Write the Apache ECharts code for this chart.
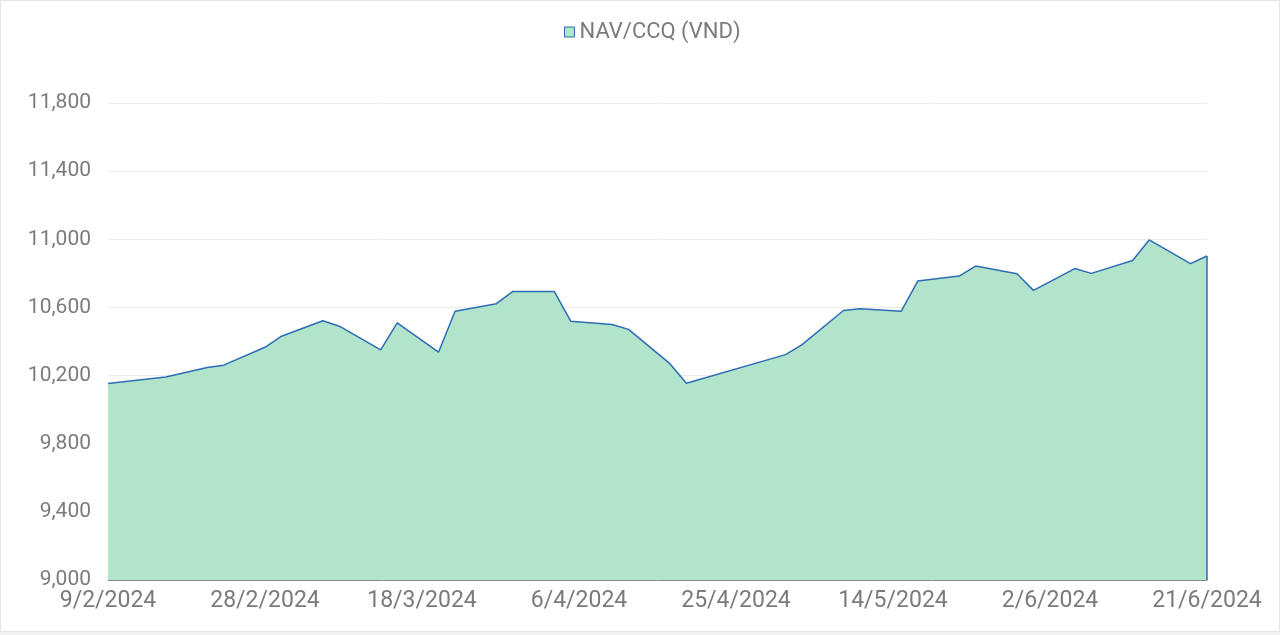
<!DOCTYPE html>
<html>
<head>
<meta charset="utf-8">
<script src="https://cdn.jsdelivr.net/npm/echarts@6/dist/echarts.min.js"></script>
<style>
html,body{margin:0;padding:0;background:#f3f3f3;}
#wrap{position:absolute;left:0;top:0;width:1278px;height:630px;background:#fff;border:1px solid #e4e4e4;}
#chart{width:1278px;height:630px;}
</style>
</head>
<body>
<div id="wrap"><div id="chart"></div></div>
<script>
// Axis range (dates d/m/yyyy)
const startDate = "9/2/2024";
const endDate = "21/6/2024";
// NAV report dates
const navDates = [
  "9/2/2024","16/2/2024","21/2/2024","23/2/2024","28/2/2024","1/3/2024","6/3/2024","8/3/2024",
  "13/3/2024","15/3/2024","20/3/2024","22/3/2024","27/3/2024","29/3/2024","3/4/2024","5/4/2024",
  "10/4/2024","12/4/2024","17/4/2024","19/4/2024","1/5/2024","3/5/2024","8/5/2024","10/5/2024",
  "15/5/2024","17/5/2024","22/5/2024","24/5/2024","29/5/2024","31/5/2024","5/6/2024","7/6/2024",
  "12/6/2024","14/6/2024","19/6/2024","21/6/2024"
];
// NAV/CCQ (VND)
const navValues = [
  10153,10192,10247,10261,10366,10431,10522,10490,
  10351,10509,10337,10578,10622,10694,10694,10519,
  10500,10471,10270,10155,10323,10382,10582,10592,
  10578,10755,10784,10843,10798,10700,10828,10800,
  10875,10996,10857,10902
];
const yTicks = {min: 9000, max: 11800, interval: 400};
const seriesName = "NAV/CCQ (VND)";

function parseD(s){const p=s.split("/").map(Number);return new Date(Date.UTC(p[2],p[1]-1,p[0]));}
function fmtD(d){return d.getUTCDate()+"/"+(d.getUTCMonth()+1)+"/"+d.getUTCFullYear();}

const categories = [];
for(let t=parseD(startDate).getTime(); t<=parseD(endDate).getTime(); t+=86400000){
  categories.push(fmtD(new Date(t)));
}
const lookup = {};
navDates.forEach((d,i)=>{lookup[d]=navValues[i];});
const seriesData = categories.map(c => (c in lookup) ? lookup[c] : null);
const lastDate = navDates[navDates.length-1];
const lastVal = navValues[navValues.length-1];

const textColor = "#7b7b7b";
const fontFam = "Roboto, 'Liberation Sans', sans-serif";
const chart = echarts.init(document.getElementById('chart'));
chart.setOption({
  animation:false,
  legend:{
    top:15, left:558,
    itemWidth:10, itemHeight:10, itemGap:10,
    icon:'rect',
    textStyle:{color:textColor,fontSize:22,fontFamily:fontFam},
    data:[{name:seriesName,itemStyle:{color:'#b2e3cb',borderColor:'#2d6db5',borderWidth:1}}]
  },
  grid:{left:107,right:72,top:102,bottom:51},
  xAxis:{
    type:'category',
    data:categories,
    boundaryGap:false,
    axisLine:{lineStyle:{color:'#8a8a8a',width:1}},
    axisTick:{show:false},
    axisLabel:{interval:18,color:textColor,fontSize:23,fontFamily:fontFam,margin:10,showMaxLabel:true},
    splitLine:{show:false}
  },
  yAxis:{
    type:'value',
    min:yTicks.min,max:yTicks.max,interval:yTicks.interval,
    axisLine:{show:false},axisTick:{show:false},
    axisLabel:{color:textColor,fontSize:21,fontFamily:fontFam,margin:17,
      formatter:v=>v.toLocaleString('en-US')},
    splitLine:{lineStyle:{color:'#ececec',width:1}}
  },
  series:[{
    name:seriesName,
    type:'line',
    data:seriesData,
    connectNulls:true,
    showSymbol:false,
    symbol:'none',
    lineStyle:{color:'#2d6db5',width:1.5},
    itemStyle:{color:'#b2e3cb',borderColor:'#2d6db5'},
    areaStyle:{color:'#b2e3cb',opacity:1},
    markLine:{
      silent:true,symbol:'none',label:{show:false},
      lineStyle:{color:'#2d6db5',width:1.5,type:'solid'},
      data:[[{coord:[lastDate,yTicks.min]},{coord:[lastDate,lastVal]}]]
    }
  }]
});
</script>
</body>
</html>
